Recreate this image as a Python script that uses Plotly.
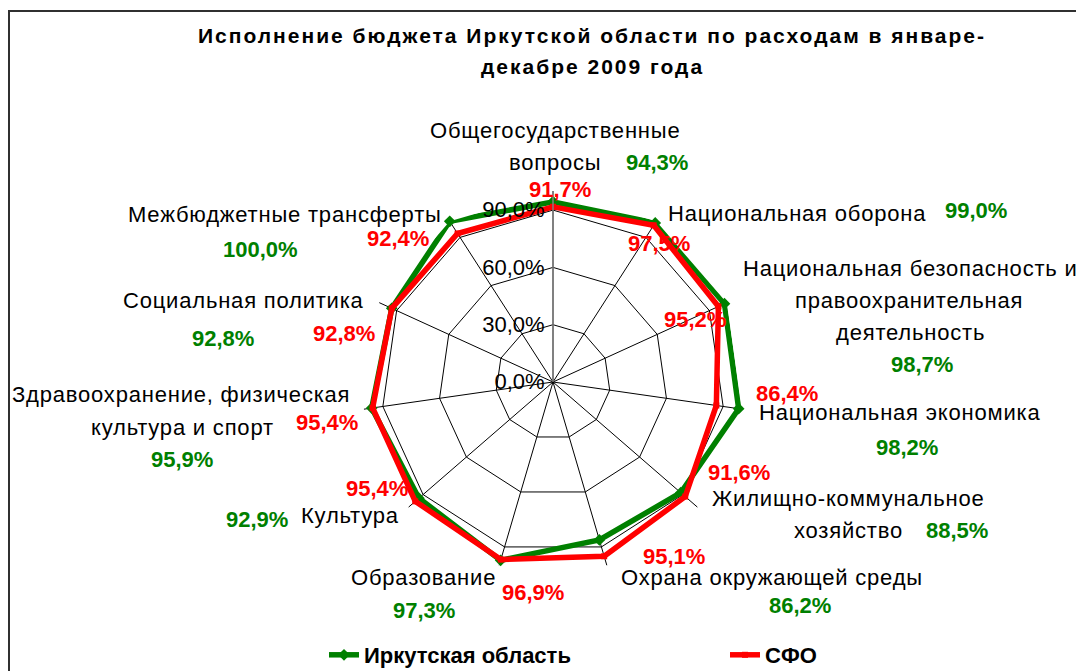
import plotly.graph_objects as go

# ---------------- data ----------------
categories = [
    "Общегосударственные вопросы",
    "Национальная оборона",
    "Национальная безопасность и правоохранительная деятельность",
    "Национальная экономика",
    "Жилищно-коммунальное хозяйство",
    "Охрана окружающей среды",
    "Образование",
    "Культура",
    "Здравоохранение, физическая культура и спорт",
    "Социальная политика",
    "Межбюджетные трансферты",
]
category_label_lines = [
    ["Общегосударственные", "вопросы"],
    ["Национальная оборона"],
    ["Национальная безопасность и", "правоохранительная", "деятельность"],
    ["Национальная экономика"],
    ["Жилищно-коммунальное", "хозяйство"],
    ["Охрана окружающей среды"],
    ["Образование"],
    ["Культура"],
    ["Здравоохранение, физическая", "культура и спорт"],
    ["Социальная политика"],
    ["Межбюджетные трансферты"],
]
irkutsk = [94.3, 99.0, 98.7, 98.2, 88.5, 86.2, 97.3, 92.9, 95.9, 92.8, 100.0]
sfo = [91.7, 97.5, 95.2, 86.4, 91.6, 95.1, 96.9, 95.4, 95.4, 92.8, 92.4]
series_names = ["Иркутская область", "СФО"]
radial_ticks = [0, 30, 60, 90]
title_lines = ["Исполнение бюджета Иркутской области по расходам в январе-",
               "декабре 2009 года"]

# ---------------- style / layout ----------------
W, H = 1084, 671
OFF = 8  # page body margin offset
CX, CY, R = 553, 382, 191
GREEN = "#008000"
RED = "#FF0000"
FONT = "Liberation Sans"

def px(x):
    return (x - OFF) / W

def py(y):
    return 1 - (y - OFF) / H

def fmt(v):
    return f"{v:.1f}%".replace(".", ",")

def spaced(t, ls):
    return f'<span style="letter-spacing:{ls}px">{t}</span>'

cat_label_pos = [
    [(555, 130), (555, 162)],
    [(797, 213)],
    [(910, 268), (909, 300), (910, 332)],
    [(899, 412)],
    [(848, 498), (848, 530)],
    [(772, 577)],
    [(423, 577)],
    [(350, 515)],
    [(181, 394), (182, 427)],
    [(243, 300)],
    [(285, 214)],
]
green_label_pos = [(657, 162), (976, 210), (922, 364), (907, 447), (957, 530),
                   (800, 605), (424, 610), (257, 519), (182, 459), (223, 338), (260, 249)]
red_label_pos = [(560, 189), (659, 243), (695, 320), (787, 393), (739, 472),
                 (674, 556), (533, 592), (377, 488), (327, 422), (344, 333), (398, 239)]

fig = go.Figure()
fig.add_trace(go.Scatterpolar(
    r=irkutsk + irkutsk[:1], theta=categories + categories[:1],
    mode="lines+markers", name=series_names[0],
    line=dict(color=GREEN, width=5.5),
    marker=dict(symbol="diamond", size=9, color=GREEN),
))
fig.add_trace(go.Scatterpolar(
    r=sfo + sfo[:1], theta=categories + categories[:1],
    mode="lines+markers", name=series_names[1],
    line=dict(color=RED, width=5.5),
    marker=dict(symbol="square", size=6, color=RED),
))

annotations = []
for i, lines in enumerate(category_label_lines):
    for line, (x, y) in zip(lines, cat_label_pos[i]):
        annotations.append(dict(x=px(x), y=py(y), xref="paper", yref="paper",
                                text=spaced(line, 0.8), showarrow=False,
                                xanchor="center", yanchor="middle",
                                font=dict(family=FONT, size=22, color="black")))
for vals, poss, col in ((irkutsk, green_label_pos, GREEN), (sfo, red_label_pos, RED)):
    for v, (x, y) in zip(vals, poss):
        annotations.append(dict(x=px(x), y=py(y), xref="paper", yref="paper",
                                text="<b>" + fmt(v) + "</b>", showarrow=False,
                                xanchor="center", yanchor="middle",
                                font=dict(family=FONT, size=22, color=col)))
for line, y in zip(title_lines, (35, 66)):
    annotations.append(dict(x=px(592), y=py(y), xref="paper", yref="paper",
                            text="<b>" + spaced(line, 2) + "</b>", showarrow=False,
                            xanchor="center", yanchor="middle",
                            font=dict(family=FONT, size=21, color="black")))

fig.update_layout(
    width=W, height=H,
    margin=dict(l=0, r=0, t=0, b=0, autoexpand=False),
    paper_bgcolor="white",
    separators=", ",
    showlegend=True,
    legend=dict(orientation="h", x=px(324), y=py(655), xanchor="left", yanchor="middle",
                font=dict(family=FONT, size=22, color="black", weight="bold"),
                entrywidth=356, bgcolor="rgba(0,0,0,0)"),
    polar=dict(
        domain=dict(x=[px(CX - R), px(CX + R)], y=[py(CY + R), py(CY - R)]),
        bgcolor="rgba(0,0,0,0)",
        gridshape="linear",
        angularaxis=dict(type="category", categoryarray=categories, direction="clockwise",
                         rotation=90, showticklabels=False, ticks="", showline=False,
                         showgrid=True, gridcolor="black", gridwidth=1),
        radialaxis=dict(range=[0, 100], tickmode="array", tickvals=radial_ticks,
                        ticktext=[fmt(v) for v in radial_ticks],
                        angle=90, side="counterclockwise", tickangle=90,
                        showline=True, linecolor="#808080", linewidth=1.5,
                        showgrid=True, gridcolor="black", gridwidth=1, ticks="",
                        tickfont=dict(family=FONT, size=22, color="black")),
    ),
    annotations=annotations,
    shapes=[
        dict(type="line", xref="paper", yref="paper", x0=px(8), y0=py(11), x1=1, y1=py(11),
             line=dict(color="#303030", width=2)),
        dict(type="line", xref="paper", yref="paper", x0=px(9), y0=py(11), x1=px(9), y1=0,
             line=dict(color="#303030", width=2)),
    ],
)

fig.write_html("out.html")
